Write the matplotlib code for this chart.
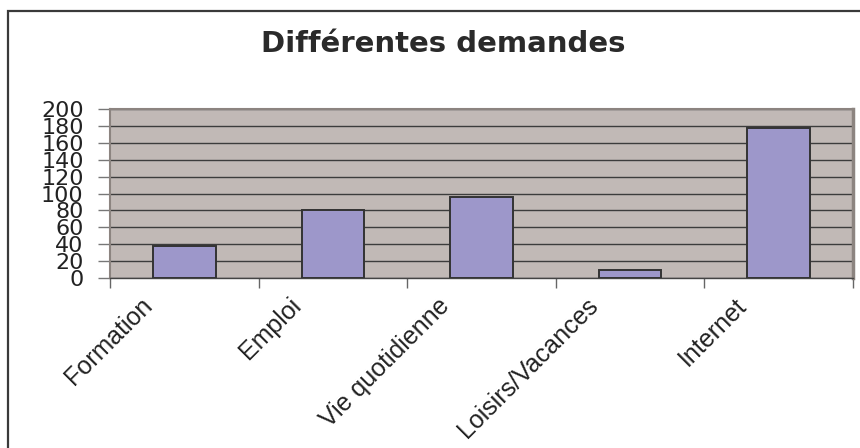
import matplotlib
matplotlib.use('Agg')
import matplotlib.pyplot as plt
import matplotlib.transforms as mtransforms
from matplotlib.patches import Rectangle

# Data
categories = ['Formation', 'Emploi', 'Vie quotidienne', 'Loisirs/Vacances', 'Internet']
values = [38, 80, 96, 10, 178]
yticks = [0, 20, 40, 60, 80, 100, 120, 140, 160, 180, 200]
title = 'Différentes demandes'

fig = plt.figure(figsize=(8.6, 4.48), dpi=100)
fig.patch.set_facecolor('white')

# outer chart frame (only left and top visible, rest is cut off)
frame = Rectangle((8 / 860, -0.2), 1.2, 1.2 - 11 / 448, transform=fig.transFigure,
                  fill=False, edgecolor='#3a3a3a', linewidth=1.6)
fig.patches.append(frame)

ax = fig.add_axes([110 / 860, 1 - 278 / 448, 743 / 860, 169 / 448])
ax.set_facecolor('#c1b9b6')

x = list(range(len(categories)))
ax.bar(x, values, width=0.42, color='#9d97ca', edgecolor='#333333', linewidth=1.4, zorder=3)

ax.set_xlim(-0.5, len(categories) - 0.5)
ax.set_ylim(0, 200)
ax.set_yticks(yticks)
ax.set_yticklabels([str(v) for v in yticks], fontsize=16, family='DejaVu Sans', color='#222222')
ax.yaxis.grid(True, color='#3c3c3c', linewidth=1.0, zorder=1)
ax.set_axisbelow(True)
ax.tick_params(axis='y', length=9, width=1, color='#777777', pad=10)

# category boundaries as ticks, labels at the centres
ax.set_xticks([i - 0.5 for i in range(len(categories) + 1)], minor=True)
ax.set_xticks(x)
ax.tick_params(axis='x', which='minor', length=7, width=1, color='#666666')
ax.tick_params(axis='x', which='major', length=0, pad=11)
ax.set_xticklabels(categories, rotation=45, ha='right', va='top', rotation_mode='anchor',
                   fontsize=18, color='#222222', family='Liberation Sans')
offset = mtransforms.ScaledTranslation(-44 / 100, 0, fig.dpi_scale_trans)
for lab in ax.get_xticklabels():
    lab.set_transform(lab.get_transform() + offset)

for side in ['left', 'top', 'right']:
    ax.spines[side].set_color('#8c8480')
    ax.spines[side].set_linewidth(1.5)
ax.spines['right'].set_linewidth(2.5)
ax.spines['bottom'].set_color('#444444')
ax.spines['bottom'].set_linewidth(1.0)

fig.text(443 / 860, 1 - 44 / 448, title, ha='center', va='center', fontsize=21,
         fontweight='bold', color='#2a2a2a', family='DejaVu Sans')

fig.savefig('out.png', dpi=100, facecolor='white')
